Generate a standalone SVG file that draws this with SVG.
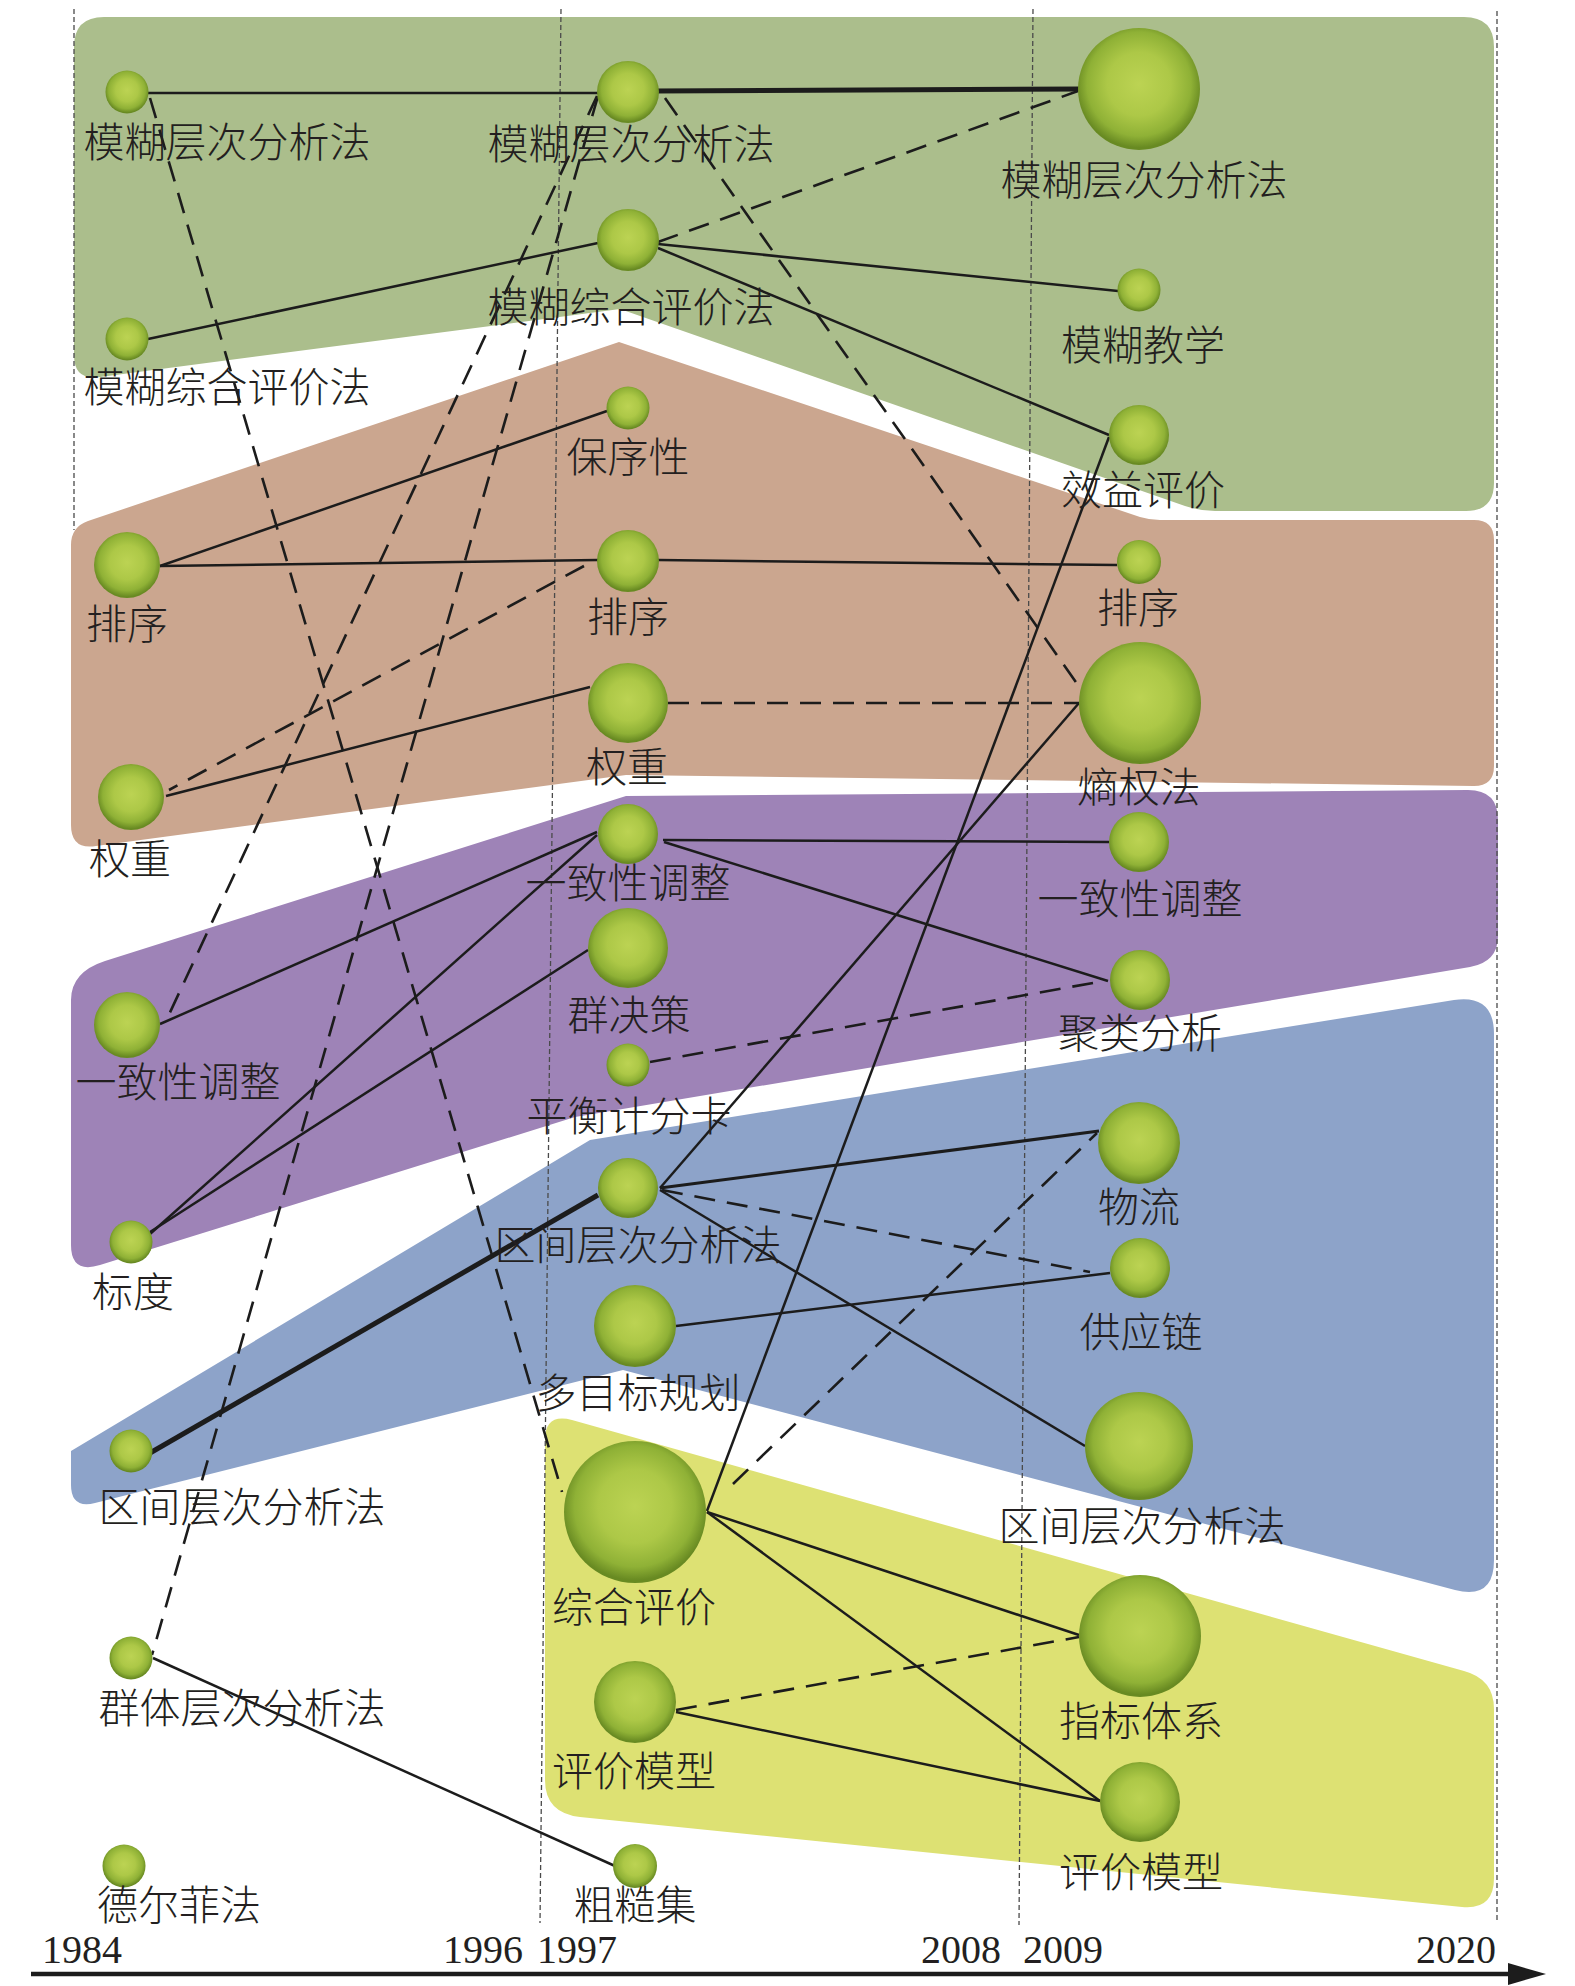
<svg xmlns="http://www.w3.org/2000/svg" width="1575" height="1986" viewBox="0 0 1575 1986">
<style>
.vl{fill:none;stroke:#4a4a4a;stroke-width:1.3;stroke-dasharray:5 3}
.e{fill:none;stroke:#1c1c1c;stroke-width:2.5}
.ed{fill:none;stroke:#1c1c1c;stroke-width:2.6;stroke-dasharray:21 12}
.tk{stroke-width:5}
.md{stroke-width:3.2}
.n{fill:url(#ball)}
.t{font-family:"Noto Sans CJK SC","Noto Sans CJK JP",sans-serif;font-size:41px;font-weight:300;fill:#231f20;text-anchor:middle}
.y{font-family:"Liberation Serif","Times New Roman",serif;font-size:40px;fill:#231f20}
</style>
<defs>
<radialGradient id="ball" cx="50%" cy="46%" r="52%">
<stop offset="0" stop-color="#bcd353"/>
<stop offset="0.5" stop-color="#adc847"/>
<stop offset="0.82" stop-color="#8fb136"/>
<stop offset="1" stop-color="#688a22"/>
</radialGradient>
</defs>
<rect width="1575" height="1986" fill="#ffffff"/>
<g id="regions">
<path fill="#abbe8c" d="M74,47 Q74,17 104,17 L1464,17 Q1494,17 1494,47 L1494,483 Q1494,511 1466,511 L1215,511 Q1200,511 1185,506 L620,309 L100,377 Q74,381 74,355 Z"/>
<path fill="#cba68f" d="M71,545 Q71,527 88,521 L619,342 L1140,517 Q1150,520 1160,520 L1474,520 Q1494,520 1494,540 L1494,766 Q1494,786 1474,786 L626,775 L96,846 Q71,850 71,825 Z"/>
<path fill="#9e83b7" d="M71,1000 Q71,972 105,961 L626,796 L1468,790 Q1498,790 1498,820 L1498,936 Q1498,962 1470,967 L575,1117 L100,1265 Q71,1274 71,1245 Z"/>
<path fill="#8da3c9" d="M71,1451 L590,1140 L1454,1000 Q1494,994 1494,1034 L1494,1560 Q1494,1600 1455,1590 L623,1370 L95,1503 Q71,1509 71,1485 Z"/>
<path fill="#dde173" d="M545,1440 Q545,1413 572,1420 L1464,1671 Q1494,1679 1494,1709 L1494,1878 Q1494,1910 1462,1907 L580,1817 Q545,1813 545,1780 Z"/>
</g>
<g id="timelines">
<line class="vl" x1="74" y1="9" x2="74" y2="530"/>
<line class="vl" x1="561" y1="9" x2="540" y2="1923"/>
<line class="vl" x1="1033" y1="9" x2="1019" y2="1925"/>
<line class="vl" x1="1497" y1="11" x2="1497" y2="1921"/>
</g>
<g id="connectors">
<line class="e" x1="148" y1="93" x2="598" y2="93"/>
<line class="e tk" x1="655" y1="91" x2="1082" y2="89"/>
<line class="e" x1="148" y1="339" x2="598" y2="243"/>
<line class="e" x1="658" y1="244" x2="1118" y2="291"/>
<line class="e" x1="658" y1="248" x2="1109" y2="435"/>
<line class="e" x1="160" y1="566" x2="607" y2="411"/>
<line class="e" x1="160" y1="566" x2="598" y2="560"/>
<line class="e" x1="658" y1="560" x2="1117" y2="565"/>
<line class="e" x1="166" y1="796" x2="590" y2="687"/>
<line class="e" x1="663" y1="840" x2="1109" y2="842"/>
<line class="e" x1="664" y1="842" x2="1108" y2="981"/>
<line class="e" x1="597" y1="832" x2="160" y2="1024"/>
<line class="e" x1="597" y1="835" x2="150" y2="1234"/>
<line class="e" x1="588" y1="950" x2="150" y2="1232"/>
<line class="e tk" x1="598" y1="1195" x2="150" y2="1453"/>
<line class="e md" x1="660" y1="1188" x2="1099" y2="1131"/>
<line class="e" x1="660" y1="1190" x2="1085" y2="1446"/>
<line class="e" x1="676" y1="1326" x2="1110" y2="1273"/>
<line class="e" x1="1109" y1="437" x2="707" y2="1511"/>
<line class="e" x1="1079" y1="703" x2="660" y2="1188"/>
<line class="e" x1="707" y1="1512" x2="1079" y2="1635"/>
<line class="e" x1="707" y1="1512" x2="1100" y2="1801"/>
<line class="e" x1="676" y1="1712" x2="1100" y2="1801"/>
<line class="e" x1="153" y1="1658" x2="615" y2="1866"/>
<line class="ed" x1="150" y1="98" x2="562" y2="1492"/>
<line class="ed" x1="598" y1="96" x2="152" y2="1655"/>
<line class="ed" x1="597" y1="96" x2="166" y2="1021"/>
<line class="ed" x1="584" y1="566" x2="169" y2="790"/>
<line class="ed" x1="658" y1="242" x2="1078" y2="91"/>
<line class="ed" x1="665" y1="98" x2="1085" y2="695"/>
<line class="ed" x1="668" y1="703" x2="1079" y2="703"/>
<line class="ed" x1="650" y1="1062" x2="1104" y2="981"/>
<line class="ed" x1="662" y1="1190" x2="1090" y2="1272"/>
<line class="ed" x1="733" y1="1484" x2="1097" y2="1133"/>
<line class="ed" x1="676" y1="1710" x2="1079" y2="1637"/>
</g>
<g id="n1"><circle class="n" cx="127" cy="92" r="21.5"/><text class="t" x="227" y="157">模糊层次分析法</text></g>
<g id="n2"><circle class="n" cx="127" cy="339" r="21.5"/><text class="t" x="227" y="402">模糊综合评价法</text></g>
<g id="n3"><circle class="n" cx="127" cy="565" r="33"/><text class="t" x="127" y="639">排序</text></g>
<g id="n4"><circle class="n" cx="131" cy="797" r="33"/><text class="t" x="130" y="874">权重</text></g>
<g id="n5"><circle class="n" cx="127" cy="1025" r="33"/><text class="t" x="178" y="1097">一致性调整</text></g>
<g id="n6"><circle class="n" cx="131" cy="1242" r="21.5"/><text class="t" x="133" y="1307">标度</text></g>
<g id="n7"><circle class="n" cx="131" cy="1451" r="21.5"/><text class="t" x="242" y="1522">区间层次分析法</text></g>
<g id="n8"><circle class="n" cx="131" cy="1658" r="21.5"/><text class="t" x="242" y="1723">群体层次分析法</text></g>
<g id="n9"><circle class="n" cx="124" cy="1866" r="21.5"/><text class="t" x="179" y="1920">德尔菲法</text></g>
<g id="m1"><circle class="n" cx="628" cy="92" r="31"/><text class="t" x="631" y="159">模糊层次分析法</text></g>
<g id="m2"><circle class="n" cx="628" cy="240" r="31"/><text class="t" x="631" y="322">模糊综合评价法</text></g>
<g id="m3"><circle class="n" cx="628" cy="408" r="21.5"/><text class="t" x="628" y="472">保序性</text></g>
<g id="m4"><circle class="n" cx="628" cy="561" r="31"/><text class="t" x="628" y="632">排序</text></g>
<g id="m5"><circle class="n" cx="628" cy="703" r="40"/><text class="t" x="627" y="782">权重</text></g>
<g id="m6"><circle class="n" cx="628" cy="834" r="30"/><text class="t" x="628" y="898">一致性调整</text></g>
<g id="m7"><circle class="n" cx="628" cy="948" r="40"/><text class="t" x="629" y="1030">群决策</text></g>
<g id="m8"><circle class="n" cx="628" cy="1065" r="21.5"/><text class="t" x="629" y="1131">平衡计分卡</text></g>
<g id="m9"><circle class="n" cx="628" cy="1188" r="30"/><text class="t" x="638" y="1260">区间层次分析法</text></g>
<g id="m10"><circle class="n" cx="635" cy="1326" r="41"/><text class="t" x="638" y="1408">多目标规划</text></g>
<g id="m11"><circle class="n" cx="635" cy="1512" r="71"/><text class="t" x="634" y="1622">综合评价</text></g>
<g id="m12"><circle class="n" cx="635" cy="1702" r="41"/><text class="t" x="634" y="1786">评价模型</text></g>
<g id="m13"><circle class="n" cx="635" cy="1866" r="22"/><text class="t" x="635" y="1920">粗糙集</text></g>
<g id="k1"><circle class="n" cx="1139" cy="89" r="61"/><text class="t" x="1144" y="195">模糊层次分析法</text></g>
<g id="k2"><circle class="n" cx="1139" cy="290" r="21.5"/><text class="t" x="1143" y="360">模糊教学</text></g>
<g id="k3"><circle class="n" cx="1139" cy="435" r="30"/><text class="t" x="1143" y="505">效益评价</text></g>
<g id="k4"><circle class="n" cx="1139" cy="562" r="22"/><text class="t" x="1138" y="623">排序</text></g>
<g id="k5"><circle class="n" cx="1140" cy="703" r="61"/><text class="t" x="1139" y="802">熵权法</text></g>
<g id="k6"><circle class="n" cx="1139" cy="842" r="30"/><text class="t" x="1140" y="914">一致性调整</text></g>
<g id="k7"><circle class="n" cx="1140" cy="980" r="30"/><text class="t" x="1140" y="1048">聚类分析</text></g>
<g id="k8"><circle class="n" cx="1139" cy="1143" r="41"/><text class="t" x="1139" y="1222">物流</text></g>
<g id="k9"><circle class="n" cx="1140" cy="1268" r="30"/><text class="t" x="1141" y="1347">供应链</text></g>
<g id="k10"><circle class="n" cx="1139" cy="1446" r="54"/><text class="t" x="1142" y="1541">区间层次分析法</text></g>
<g id="k11"><circle class="n" cx="1140" cy="1636" r="61"/><text class="t" x="1141" y="1736">指标体系</text></g>
<g id="k12"><circle class="n" cx="1140" cy="1802" r="40"/><text class="t" x="1141" y="1887">评价模型</text></g>
<g id="axis">
<line x1="31" y1="1974" x2="1515" y2="1974" stroke="#1c1c1c" stroke-width="4.5"/>
<polygon points="1508,1963 1546,1974 1508,1985" fill="#1c1c1c"/>
<text class="y" x="42" y="1963">1984</text>
<text class="y" x="443" y="1963">1996</text>
<text class="y" x="537" y="1963">1997</text>
<text class="y" x="921" y="1963">2008</text>
<text class="y" x="1023" y="1963">2009</text>
<text class="y" x="1416" y="1963">2020</text>
</g>
</svg>
